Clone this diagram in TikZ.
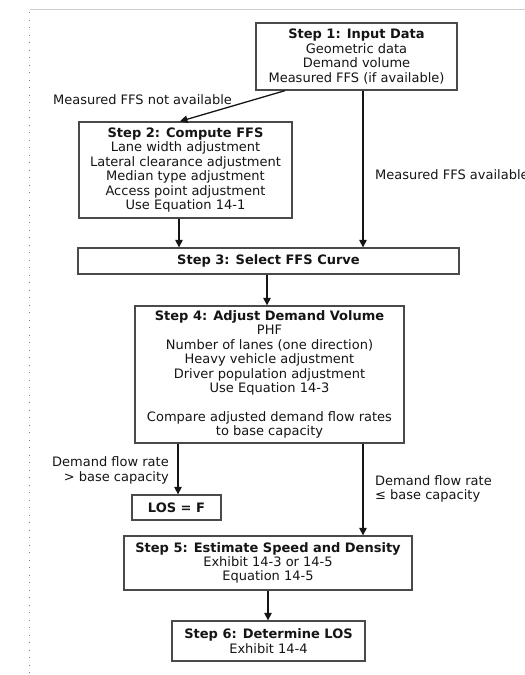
\documentclass[tikz,border=0pt]{standalone}
\usepackage{fontspec}
\setmainfont{DejaVu Sans}
\usetikzlibrary{arrows.meta}
\definecolor{boxline}{HTML}{4A4A4A}
\definecolor{txt}{HTML}{151515}
\definecolor{frame}{HTML}{CFCFCF}
\begin{document}
\begin{tikzpicture}[x=1pt,y=-1pt,
  every node/.style={font=\fontsize{13}{14.4}\selectfont, text=txt},
  stepbox/.style={draw=boxline, line width=1.3pt, fill=white, align=center, inner sep=0pt},
  lbl/.style={inner sep=0pt},
  conn/.style={draw=txt, line width=1.3pt, -{Triangle[length=7.5pt,width=7.5pt]}}
]
\useasboundingbox (0,0) rectangle (525,675);
\clip (0,0) rectangle (525,675);
% frame
\draw[frame, line width=1pt] (30,9.5) -- (525,9.5);
\draw[gray, line width=1pt, dash pattern=on 1.2pt off 6.3pt] (29.5,12) -- (29.5,675);

\node[stepbox, minimum width=201pt, minimum height=67pt] (s1) at (356.5,56.5)
  {\textbf{Step 1: Input Data}\\Geometric data\\Demand volume\\Measured FFS (if available)};
\node[stepbox, minimum width=213pt, minimum height=96pt] (s2) at (185.5,170)
  {\textbf{Step 2: Compute FFS}\\Lane width adjustment\\Lateral clearance adjustment\\Median type adjustment\\Access point adjustment\\Use Equation 14-1};
\node[stepbox, minimum width=381pt, minimum height=26pt] (s3) at (268.5,261)
  {\textbf{Step 3: Select FFS Curve}};
\node[stepbox, minimum width=269pt, minimum height=137pt] (s4) at (269.5,374.5)
  {\textbf{Step 4: Adjust Demand Volume}\\PHF\\Number of lanes (one direction)\\Heavy vehicle adjustment\\Driver population adjustment\\Use Equation 14-3\\[14.4pt]Compare adjusted demand flow rates\\to base capacity};
\node[stepbox, minimum width=89pt, minimum height=25pt] (los) at (176.5,507.5)
  {\textbf{LOS = F}};
\node[stepbox, minimum width=288pt, minimum height=54pt] (s5) at (268,563)
  {\textbf{Step 5: Estimate Speed and Density}\\Exhibit 14-3 or 14-5\\Equation 14-5};
\node[stepbox, minimum width=193pt, minimum height=40pt] (s6) at (268.5,641)
  {\textbf{Step 6: Determine LOS}\\Exhibit 14-4};

% labels
\node[lbl] (l1) at (142.5,100) {Measured FFS not available};
\node[lbl, anchor=west] (l2) at (375,175) {Measured FFS available};
\node[lbl, anchor=east, align=right] (l3) at (169,470.5) {Demand flow rate\\> base capacity};
\node[lbl, anchor=west, align=left] (l4) at (375,489) {Demand flow rate\\≤ base capacity};

% connectors
\draw[conn] (s1.south -| 285,0) -- (s2.north -| 180,0);
\draw[conn] (s1.south -| 363,0) -- (s3.north -| 363,0);
\draw[conn] (s2.south -| 179,0) -- (s3.north -| 179,0);
\draw[conn] (s3.south -| 267,0) -- (s4.north -| 267,0);
\draw[conn] (s4.south -| 178,0) -- (los.north -| 178,0);
\draw[conn] (s4.south -| 363,0) -- (s5.north -| 363,0);
\draw[conn] (s5.south -| 268,0) -- (s6.north -| 268,0);
\end{tikzpicture}
\end{document}
